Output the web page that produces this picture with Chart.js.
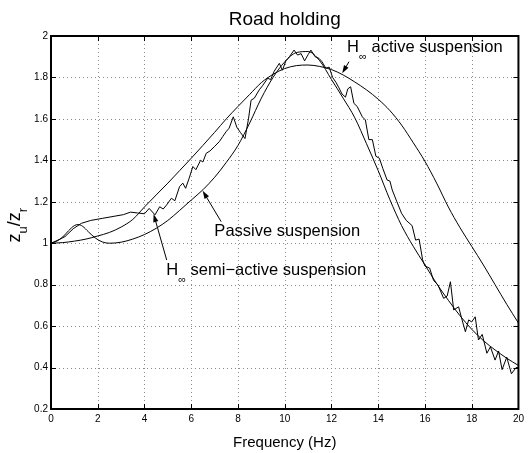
<!DOCTYPE html>
<html>
<head>
<meta charset="utf-8">
<script src="https://cdn.jsdelivr.net/npm/chart.js@4"></script>
<style>
  html, body { margin: 0; padding: 0; background: #fff; }
  canvas { display: block; }
</style>
</head>
<body>
<canvas id="chart" width="528" height="453"></canvas>
<script>
'use strict';

// H-infinity active suspension (smooth, broad peak)
const activeFreq = [0, 0.5, 1, 1.5, 2, 2.5, 3, 3.5, 4, 4.5, 5, 5.5, 6, 6.5, 7, 7.5, 8, 8.5, 9, 9.5,
  10, 10.5, 11, 11.5, 12, 12.5, 13, 13.5, 14, 14.5, 15, 15.5, 16, 16.5, 17, 17.5, 18, 18.5, 19, 19.5, 20];
const activeVal = [1.000, 1.003, 1.010, 1.020, 1.035, 1.052, 1.078, 1.115, 1.175, 1.233, 1.290, 1.350, 1.410, 1.472, 1.535, 1.600, 1.660, 1.718, 1.775, 1.815,
  1.843, 1.857, 1.860, 1.853, 1.838, 1.812, 1.778, 1.740, 1.695, 1.640, 1.570, 1.485, 1.395, 1.290, 1.175, 1.075, 0.985, 0.895, 0.800, 0.705, 0.615];

// passive suspension
const passiveFreq = [0, 0.25, 0.5, 0.75, 1.0, 1.15, 1.35, 1.6, 1.9, 2.2, 2.5, 3, 3.5, 4, 4.5, 5, 5.5, 6, 6.5, 7, 7.5, 8, 8.5, 9, 9.5,
  10, 10.5, 11, 11.5, 12, 12.5, 13, 13.5, 14, 14.5, 15, 15.5, 16, 16.5, 17, 17.5, 18, 18.5, 19, 19.5, 20];
const passiveVal = [1.000, 1.010, 1.030, 1.060, 1.085, 1.090, 1.082, 1.055, 1.025, 1.006, 1.000, 1.005, 1.020, 1.042, 1.072, 1.110, 1.158, 1.208, 1.258, 1.318, 1.390, 1.472, 1.580, 1.700, 1.800,
  1.875, 1.920, 1.925, 1.880, 1.790, 1.700, 1.605, 1.480, 1.350, 1.210, 1.085, 0.985, 0.895, 0.805, 0.725, 0.650, 0.585, 0.530, 0.485, 0.445, 0.410];

// H-infinity semi-active suspension (jagged)
const semiFreq = [0, 0.3, 0.6, 0.95, 1.3, 1.7, 2.2, 2.7, 3.1, 3.4, 3.7, 4.0, 4.2, 4.45, 4.65, 4.8, 4.95, 5.15, 5.3, 5.5,
  5.64, 5.76, 5.9, 6.07, 6.2, 6.4, 6.5, 6.64, 6.8, 6.99, 7.2, 7.35, 7.49, 7.62, 7.8, 7.95, 8.1, 8.3, 8.45, 8.56,
  8.7, 8.91, 9.05, 9.27, 9.4, 9.55, 9.77, 9.9, 10.05, 10.2, 10.4, 10.55, 10.7, 10.85, 11.0, 11.12, 11.3, 11.47, 11.6, 11.76,
  11.9, 12.05, 12.2, 12.32, 12.45, 12.6, 12.7, 12.82, 12.96, 13.1, 13.32, 13.45, 13.6, 13.75, 13.9, 14.05, 14.2, 14.38, 14.5, 14.6,
  14.8, 15.0, 15.2, 15.45, 15.6, 15.75, 15.9, 16.0, 16.2, 16.37, 16.55, 16.8, 16.95, 17.09, 17.23, 17.44, 17.6, 17.73, 17.87, 18.0,
  18.15, 18.29, 18.45, 18.65, 18.8, 19.0, 19.15, 19.3, 19.5, 19.7, 19.9, 20.0];
const semiVal = [1.000, 1.015, 1.032, 1.070, 1.096, 1.110, 1.120, 1.130, 1.138, 1.150, 1.146, 1.142, 1.168, 1.137, 1.176, 1.165, 1.185, 1.217, 1.205, 1.273,
  1.290, 1.265, 1.310, 1.370, 1.355, 1.400, 1.392, 1.434, 1.445, 1.466, 1.490, 1.515, 1.538, 1.555, 1.610, 1.560, 1.535, 1.505, 1.600, 1.690,
  1.700, 1.740, 1.760, 1.796, 1.790, 1.830, 1.868, 1.835, 1.880, 1.900, 1.932, 1.908, 1.915, 1.880, 1.910, 1.932, 1.900, 1.892, 1.875, 1.844,
  1.850, 1.800, 1.775, 1.750, 1.720, 1.705, 1.745, 1.755, 1.675, 1.660, 1.610, 1.595, 1.500, 1.500, 1.420, 1.410, 1.360, 1.305, 1.300, 1.257,
  1.200, 1.144, 1.110, 1.085, 1.015, 1.020, 0.920, 0.890, 0.880, 0.820, 0.800, 0.734, 0.745, 0.814, 0.678, 0.693, 0.625, 0.573, 0.630, 0.620,
  0.645, 0.533, 0.560, 0.469, 0.500, 0.436, 0.480, 0.390, 0.450, 0.370, 0.400, 0.400];

const xMin = 0, xMax = 20, xStep = 2;
const yMin = 0.2, yMax = 2, yStep = 0.2;

const FONT = '"Liberation Sans", Arial, Helvetica, sans-serif';

// annotation anchors, in data units (freq, ratio)
const notes = [
  { parts: [['H', 16.5, 0], ['\u221E', 11, 8], [' active suspension', 16.5, 0]], at: [12.67, 1.923],
    tail: [12.75, 1.876], tip: [12.46, 1.82] },
  { parts: [['Passive suspension', 16.5, 0]], at: [6.99, 1.035],
    tail: [7.28, 1.104], tip: [6.49, 1.253] },
  { parts: [['H', 16.5, 0], ['\u221E', 11, 8], [' semi\u2212active suspension', 16.5, 0]], at: [4.93, 0.847],
    tail: [4.95, 0.919], tip: [4.39, 1.141] }
];

function toPoints(xs, ys) {
  return xs.map((x, i) => ({ x: x, y: ys[i] }));
}

// draw text made of pieces with different sizes and vertical offsets
function drawParts(ctx, x, y, parts) {
  parts.forEach(p => {
    ctx.font = p[1] + 'px ' + FONT;
    ctx.fillText(p[0], x, y + p[2]);
    x += ctx.measureText(p[0]).width;
  });
}

function arrow(ctx, x1, y1, x2, y2) {
  const ang = Math.atan2(y2 - y1, x2 - x1);
  const len = 8, half = 2.6;
  ctx.beginPath();
  ctx.moveTo(x1, y1);
  ctx.lineTo(x2 - Math.cos(ang) * len * 0.8, y2 - Math.sin(ang) * len * 0.8);
  ctx.stroke();
  ctx.beginPath();
  ctx.moveTo(x2, y2);
  ctx.lineTo(x2 - Math.cos(ang) * len - Math.sin(ang) * half, y2 - Math.sin(ang) * len + Math.cos(ang) * half);
  ctx.lineTo(x2 - Math.cos(ang) * len + Math.sin(ang) * half, y2 - Math.sin(ang) * len - Math.cos(ang) * half);
  ctx.closePath();
  ctx.fill();
}

const framePlugin = {
  id: 'frame',
  beforeDatasetsDraw(chart) {
    const { ctx, chartArea: a, scales: { x, y } } = chart;
    ctx.save();
    ctx.strokeStyle = '#8c8c8c';
    ctx.lineWidth = 1;
    ctx.setLineDash([1, 3]);
    x.ticks.forEach(t => {
      const px = Math.round(x.getPixelForValue(t.value)) + 0.5;
      if (px < a.left + 2 || px > a.right - 2) return;
      ctx.beginPath(); ctx.moveTo(px, a.top); ctx.lineTo(px, a.bottom); ctx.stroke();
    });
    y.ticks.forEach(t => {
      const py = Math.round(y.getPixelForValue(t.value)) + 0.5;
      if (py < a.top + 2 || py > a.bottom - 2) return;
      ctx.beginPath(); ctx.moveTo(a.left, py); ctx.lineTo(a.right, py); ctx.stroke();
    });
    ctx.restore();
  },
  afterDatasetsDraw(chart) {
    const { ctx, chartArea: a, scales: { x, y } } = chart;
    ctx.save();
    // inner tick marks
    ctx.strokeStyle = '#000';
    ctx.lineWidth = 1;
    const tl = 5;
    x.ticks.forEach(t => {
      const px = Math.round(x.getPixelForValue(t.value)) + 0.5;
      ctx.beginPath();
      ctx.moveTo(px, a.bottom); ctx.lineTo(px, a.bottom - tl);
      ctx.moveTo(px, a.top); ctx.lineTo(px, a.top + tl);
      ctx.stroke();
    });
    y.ticks.forEach(t => {
      const py = Math.round(y.getPixelForValue(t.value)) + 0.5;
      ctx.beginPath();
      ctx.moveTo(a.left, py); ctx.lineTo(a.left + tl, py);
      ctx.moveTo(a.right, py); ctx.lineTo(a.right - tl, py);
      ctx.stroke();
    });
    // box
    ctx.lineWidth = 2;
    ctx.strokeRect(a.left, a.top, a.right - a.left, a.bottom - a.top);

    // annotations
    ctx.fillStyle = '#000';
    ctx.lineWidth = 1;
    ctx.textBaseline = 'alphabetic';
    ctx.textAlign = 'left';
    notes.forEach(n => {
      drawParts(ctx, x.getPixelForValue(n.at[0]), y.getPixelForValue(n.at[1]), n.parts);
      arrow(ctx, x.getPixelForValue(n.tail[0]), y.getPixelForValue(n.tail[1]),
        x.getPixelForValue(n.tip[0]), y.getPixelForValue(n.tip[1]));
    });

    // title
    const cx = (a.left + a.right) / 2;
    ctx.textAlign = 'center';
    ctx.font = '19px ' + FONT;
    ctx.fillText('Road holding', cx, a.top - 11);
    // x axis title
    ctx.font = '15px ' + FONT;
    ctx.fillText('Frequency (Hz)', cx, a.bottom + 37.5);
    // y axis title z_u/z_r, rotated
    ctx.textAlign = 'left';
    ctx.translate(20, (a.top + a.bottom) / 2 + 20);
    ctx.rotate(-Math.PI / 2);
    drawParts(ctx, 0, 0, [['z', 18, 0], ['u', 13, 7], ['/', 18, 0], ['z', 18, 0], ['r', 13, 7]]);
    ctx.restore();
  }
};

const lineStyle = {
  showLine: true,
  borderColor: '#000',
  borderWidth: 1,
  pointRadius: 0,
  fill: false
};

new Chart(document.getElementById('chart'), {
  type: 'scatter',
  data: {
    datasets: [
      Object.assign({ label: 'Passive suspension', data: toPoints(passiveFreq, passiveVal), cubicInterpolationMode: 'monotone' }, lineStyle),
      Object.assign({ label: 'H\u221E active suspension', data: toPoints(activeFreq, activeVal), cubicInterpolationMode: 'monotone' }, lineStyle),
      Object.assign({ label: 'H\u221E semi-active suspension', data: toPoints(semiFreq, semiVal), tension: 0 }, lineStyle)
    ]
  },
  options: {
    responsive: false,
    devicePixelRatio: 1,
    animation: false,
    layout: { padding: { left: 0, right: 8, top: 36, bottom: 0 } },
    plugins: {
      legend: { display: false },
      title: { display: false },
      tooltip: { enabled: false }
    },
    scales: {
      x: {
        type: 'linear',
        min: xMin,
        max: xMax,
        ticks: { stepSize: xStep, color: '#000', padding: 4, maxRotation: 0, font: { family: FONT, size: 10 } },
        grid: { display: false, drawTicks: false },
        border: { display: false },
        afterFit: s => { s.height = 44; }
      },
      y: {
        min: yMin,
        max: yMax,
        ticks: {
          stepSize: yStep, color: '#000', padding: 3, font: { family: FONT, size: 10 },
          callback: v => String(+v.toFixed(1))
        },
        grid: { display: false, drawTicks: false },
        border: { display: false },
        afterFit: s => { s.width = 51; }
      }
    }
  },
  plugins: [framePlugin]
});
</script>
</body>
</html>
